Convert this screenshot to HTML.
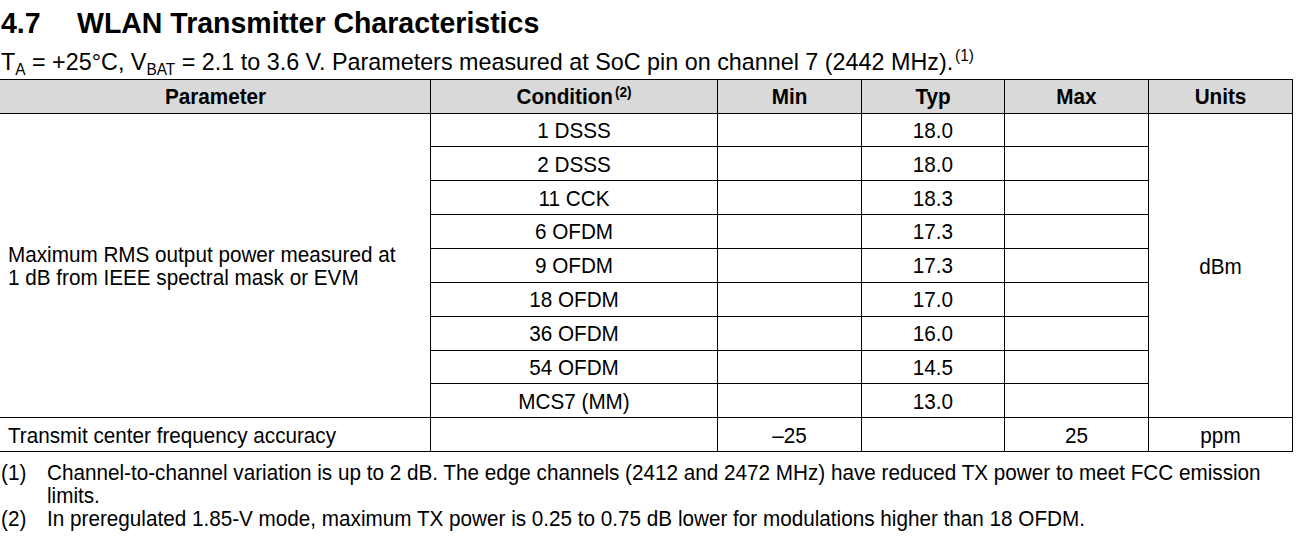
<!DOCTYPE html>
<html>
<head>
<meta charset="utf-8">
<style>
html,body{margin:0;padding:0;background:#fff;}
body{width:1298px;height:547px;position:relative;overflow:hidden;font-family:"Liberation Sans",sans-serif;color:#000;}
.a{position:absolute;white-space:nowrap;line-height:1;}
.h{position:absolute;height:1px;background:#000;}
.v{position:absolute;width:1px;background:#000;}
.hdr{position:absolute;background:#d9d9d9;}
.sb{font-size:0.66em;position:relative;line-height:0;}
</style>
</head>
<body>
<div class="a" style="left:1px;top:8.01px;font-size:29.640px;font-weight:bold;transform:scaleX(0.9615);transform-origin:left top;">4.7</div>
<div class="a" style="left:77px;top:8.01px;font-size:29.640px;font-weight:bold;transform:scaleX(0.9615);transform-origin:left top;">WLAN Transmitter Characteristics</div>
<div class="a" style="left:1px;top:50.34px;font-size:24.284px;transform:scaleX(0.9615);transform-origin:left top;">T<span class="sb" style="top:5px;">A</span> = +25°C, V<span class="sb" style="top:5px;">BAT</span> = 2.1 to 3.6 V. Parameters measured at SoC pin on channel 7 (2442 MHz).<span class="sb" style="top:-9px;margin-left:2px;">(1)</span></div>
<div class="hdr" style="left:0;top:80px;width:1292px;height:33px;"></div>
<div class="h" style="left:0;top:79px;width:1293px;"></div>
<div class="h" style="left:0;top:113px;width:1293px;"></div>
<div class="h" style="left:430px;top:146px;width:719px;"></div>
<div class="h" style="left:430px;top:180px;width:719px;"></div>
<div class="h" style="left:430px;top:214px;width:719px;"></div>
<div class="h" style="left:430px;top:248px;width:719px;"></div>
<div class="h" style="left:430px;top:282px;width:719px;"></div>
<div class="h" style="left:430px;top:316px;width:719px;"></div>
<div class="h" style="left:430px;top:350px;width:719px;"></div>
<div class="h" style="left:430px;top:383px;width:719px;"></div>
<div class="h" style="left:0;top:417px;width:1293px;"></div>
<div class="h" style="left:0;top:451px;width:1293px;"></div>
<div class="v" style="left:430px;top:79px;height:373px;"></div>
<div class="v" style="left:717px;top:79px;height:373px;"></div>
<div class="v" style="left:861px;top:79px;height:373px;"></div>
<div class="v" style="left:1004px;top:79px;height:373px;"></div>
<div class="v" style="left:1148px;top:79px;height:373px;"></div>
<div class="v" style="left:1292px;top:79px;height:373px;"></div>
<div class="a" style="left:1px;top:87.18px;font-size:21.528px;font-weight:bold;width:429px;text-align:center;transform:scaleX(0.9615);transform-origin:center top;">Parameter</div>
<div class="a" style="left:431px;top:87.18px;font-size:21.528px;font-weight:bold;width:286px;text-align:center;transform:scaleX(0.9615);transform-origin:center top;">Condition<span class="sb" style="top:-7px;margin-left:2px;">(2)</span></div>
<div class="a" style="left:718px;top:87.18px;font-size:21.528px;font-weight:bold;width:143px;text-align:center;transform:scaleX(0.9615);transform-origin:center top;">Min</div>
<div class="a" style="left:862px;top:87.18px;font-size:21.528px;font-weight:bold;width:142px;text-align:center;transform:scaleX(0.9615);transform-origin:center top;">Typ</div>
<div class="a" style="left:1005px;top:87.18px;font-size:21.528px;font-weight:bold;width:143px;text-align:center;transform:scaleX(0.9615);transform-origin:center top;">Max</div>
<div class="a" style="left:1149px;top:87.18px;font-size:21.528px;font-weight:bold;width:143px;text-align:center;transform:scaleX(0.9615);transform-origin:center top;">Units</div>
<div class="a" style="left:431px;top:120.88px;font-size:21.528px;width:286px;text-align:center;transform:scaleX(0.9615);transform-origin:center top;">1 DSSS</div>
<div class="a" style="left:862px;top:120.88px;font-size:21.528px;width:142px;text-align:center;transform:scaleX(0.9615);transform-origin:center top;">18.0</div>
<div class="a" style="left:431px;top:154.73px;font-size:21.528px;width:286px;text-align:center;transform:scaleX(0.9615);transform-origin:center top;">2 DSSS</div>
<div class="a" style="left:862px;top:154.73px;font-size:21.528px;width:142px;text-align:center;transform:scaleX(0.9615);transform-origin:center top;">18.0</div>
<div class="a" style="left:431px;top:188.58px;font-size:21.528px;width:286px;text-align:center;transform:scaleX(0.9615);transform-origin:center top;">11 CCK</div>
<div class="a" style="left:862px;top:188.58px;font-size:21.528px;width:142px;text-align:center;transform:scaleX(0.9615);transform-origin:center top;">18.3</div>
<div class="a" style="left:431px;top:222.43px;font-size:21.528px;width:286px;text-align:center;transform:scaleX(0.9615);transform-origin:center top;">6 OFDM</div>
<div class="a" style="left:862px;top:222.43px;font-size:21.528px;width:142px;text-align:center;transform:scaleX(0.9615);transform-origin:center top;">17.3</div>
<div class="a" style="left:431px;top:256.28px;font-size:21.528px;width:286px;text-align:center;transform:scaleX(0.9615);transform-origin:center top;">9 OFDM</div>
<div class="a" style="left:862px;top:256.28px;font-size:21.528px;width:142px;text-align:center;transform:scaleX(0.9615);transform-origin:center top;">17.3</div>
<div class="a" style="left:431px;top:290.13px;font-size:21.528px;width:286px;text-align:center;transform:scaleX(0.9615);transform-origin:center top;">18 OFDM</div>
<div class="a" style="left:862px;top:290.13px;font-size:21.528px;width:142px;text-align:center;transform:scaleX(0.9615);transform-origin:center top;">17.0</div>
<div class="a" style="left:431px;top:323.98px;font-size:21.528px;width:286px;text-align:center;transform:scaleX(0.9615);transform-origin:center top;">36 OFDM</div>
<div class="a" style="left:862px;top:323.98px;font-size:21.528px;width:142px;text-align:center;transform:scaleX(0.9615);transform-origin:center top;">16.0</div>
<div class="a" style="left:431px;top:357.83px;font-size:21.528px;width:286px;text-align:center;transform:scaleX(0.9615);transform-origin:center top;">54 OFDM</div>
<div class="a" style="left:862px;top:357.83px;font-size:21.528px;width:142px;text-align:center;transform:scaleX(0.9615);transform-origin:center top;">14.5</div>
<div class="a" style="left:431px;top:391.68px;font-size:21.528px;width:286px;text-align:center;transform:scaleX(0.9615);transform-origin:center top;">MCS7 (MM)</div>
<div class="a" style="left:862px;top:391.68px;font-size:21.528px;width:142px;text-align:center;transform:scaleX(0.9615);transform-origin:center top;">13.0</div>
<div class="a" style="left:8px;top:244.78px;font-size:21.528px;transform:scaleX(0.9615);transform-origin:left top;">Maximum RMS output power measured at</div>
<div class="a" style="left:8px;top:268.48px;font-size:21.528px;transform:scaleX(0.9615);transform-origin:left top;">1 dB from IEEE spectral mask or EVM</div>
<div class="a" style="left:1149px;top:257.48px;font-size:21.528px;width:143px;text-align:center;transform:scaleX(0.9615);transform-origin:center top;">dBm</div>
<div class="a" style="left:8px;top:425.78px;font-size:21.528px;transform:scaleX(0.9615);transform-origin:left top;">Transmit center frequency accuracy</div>
<div class="a" style="left:718px;top:425.78px;font-size:21.528px;width:143px;text-align:center;transform:scaleX(0.9615);transform-origin:center top;">–25</div>
<div class="a" style="left:1005px;top:425.78px;font-size:21.528px;width:143px;text-align:center;transform:scaleX(0.9615);transform-origin:center top;">25</div>
<div class="a" style="left:1149px;top:425.78px;font-size:21.528px;width:143px;text-align:center;transform:scaleX(0.9615);transform-origin:center top;">ppm</div>
<div class="a" style="left:1px;top:462.88px;font-size:21.528px;transform:scaleX(0.9615);transform-origin:left top;">(1)</div>
<div class="a" style="left:47px;top:462.88px;font-size:21.528px;transform:scaleX(0.9615);transform-origin:left top;">Channel-to-channel variation is up to 2 dB. The edge channels (2412 and 2472 MHz) have reduced TX power to meet FCC emission</div>
<div class="a" style="left:47px;top:485.78px;font-size:21.528px;transform:scaleX(0.9615);transform-origin:left top;">limits.</div>
<div class="a" style="left:1px;top:508.78px;font-size:21.528px;transform:scaleX(0.9615);transform-origin:left top;">(2)</div>
<div class="a" style="left:47px;top:508.78px;font-size:21.528px;transform:scaleX(0.9615);transform-origin:left top;">In preregulated 1.85-V mode, maximum TX power is 0.25 to 0.75 dB lower for modulations higher than 18 OFDM.</div>
</body>
</html>
